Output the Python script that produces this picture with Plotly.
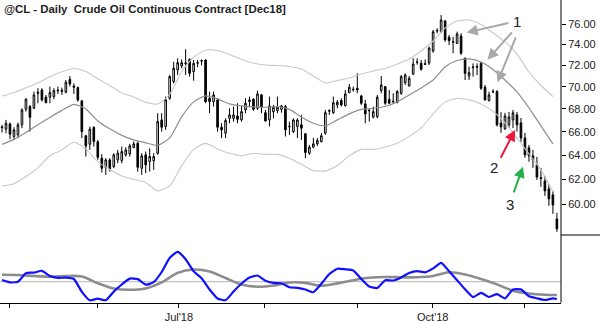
import math
import plotly.graph_objects as go

# ---------------- data ----------------
bar_index = list(range(140))

open_ = [66.35, 66.22, 66.68, 65.59, 65.73, 66.60, 67.97, 68.21, 68.06, 69.50,
         69.71, 69.05, 69.05, 69.11, 69.62, 69.68, 69.50, 70.69, 70.08, 69.93,
         68.72, 65.65, 64.93, 66.39, 65.13, 63.75, 62.97, 63.61, 63.05, 63.61,
         63.55, 64.03, 64.11, 64.65, 65.02, 62.92, 64.03, 63.47, 63.55, 64.17,
         67.03, 66.45, 68.96, 70.48, 71.56, 71.94, 72.15, 72.56, 71.40, 72.20,
         72.40, 72.50, 68.96, 68.66, 68.81, 66.39, 65.88, 67.17, 67.17, 67.38,
         67.03, 67.91, 68.66, 68.87, 68.06, 69.26, 67.67, 67.03, 67.76, 67.85,
         67.97, 68.21, 66.42, 66.01, 66.45, 66.60, 65.82, 64.17, 64.68, 64.96,
         65.16, 65.88, 67.80, 67.67, 68.36, 68.75, 68.30, 69.47, 69.73, 69.87,
         69.17, 68.45, 67.83, 67.27, 67.32, 69.65, 70.02, 68.87, 68.64, 68.57,
         69.41, 70.38, 70.08, 71.19, 72.28, 72.18, 72.15, 72.21, 73.36, 75.30,
         75.24, 76.30, 74.69, 74.20, 74.10, 74.82, 72.66, 71.00, 71.78, 71.90,
         72.18, 69.96, 68.75, 69.53, 69.56, 66.77, 66.25, 66.60, 67.03, 67.47,
         66.77, 65.47, 64.62, 63.95, 63.20, 62.15, 61.88, 61.24, 60.76, 58.88]

high = [66.60, 67.03, 66.80, 66.39, 66.80, 68.06, 68.96, 68.36, 69.56, 69.87,
        69.87, 69.26, 70.02, 69.87, 70.02, 69.93, 70.63, 71.00, 70.32, 70.02,
        68.81, 65.73, 66.45, 66.45, 65.30, 64.09, 63.75, 63.75, 64.17, 64.45,
        64.73, 64.68, 64.96, 65.16, 65.16, 64.17, 64.31, 64.59, 64.17, 67.62,
        67.62, 69.11, 71.09, 72.34, 72.66, 72.56, 73.53, 72.66, 72.50, 72.50,
        72.56, 72.56, 69.56, 69.56, 68.96, 66.74, 67.17, 68.06, 68.21, 68.51,
        68.27, 68.96, 69.11, 68.96, 69.65, 69.35, 67.91, 69.11, 68.36, 69.11,
        68.36, 68.36, 66.88, 67.17, 67.17, 67.47, 65.88, 64.87, 65.45, 65.45,
        65.88, 67.91, 67.97, 69.11, 68.81, 68.96, 69.71, 70.26, 70.02, 71.25,
        69.26, 68.81, 68.06, 68.21, 69.26, 71.00, 70.08, 69.71, 69.41, 69.71,
        71.09, 71.25, 71.00, 72.66, 72.66, 72.50, 72.56, 73.78, 75.41, 75.58,
        76.90, 76.40, 74.92, 74.75, 75.24, 75.09, 72.75, 71.87, 72.18, 72.18,
        72.34, 70.17, 69.56, 69.78, 69.71, 67.71, 67.65, 67.74, 67.91, 67.74,
        67.20, 65.90, 64.87, 64.45, 63.86, 62.95, 62.29, 61.64, 61.08, 59.35]

low = [65.93, 65.87, 65.36, 65.30, 65.45, 66.31, 67.76, 66.01, 68.00, 68.51,
       68.66, 68.51, 68.51, 68.87, 69.35, 69.26, 69.41, 70.02, 69.35, 68.66,
       65.45, 63.89, 64.45, 64.73, 63.61, 62.56, 62.37, 62.64, 62.92, 63.33,
       63.33, 63.89, 63.89, 64.59, 62.64, 62.37, 62.52, 62.64, 62.78, 64.03,
       66.01, 66.16, 68.81, 70.32, 71.09, 71.72, 71.09, 70.94, 70.57, 71.81,
       72.00, 68.51, 67.62, 68.21, 66.01, 65.45, 65.45, 66.74, 66.88, 66.74,
       66.88, 67.62, 68.15, 67.85, 67.91, 67.62, 66.88, 66.45, 67.17, 67.62,
       67.67, 65.59, 65.73, 65.88, 65.45, 65.30, 63.75, 64.03, 64.59, 64.79,
       65.07, 65.73, 67.47, 67.56, 68.06, 68.21, 68.21, 69.41, 69.56, 69.41,
       68.36, 66.74, 66.88, 67.17, 67.17, 69.41, 68.36, 68.45, 68.45, 68.51,
       69.26, 70.17, 70.02, 71.09, 72.06, 71.50, 72.03, 72.03, 73.20, 75.09,
       75.09, 74.26, 73.94, 73.15, 74.04, 72.98, 70.63, 70.63, 70.94, 71.09,
       69.71, 68.75, 68.66, 69.41, 66.45, 65.91, 66.16, 66.33, 66.33, 66.00,
       65.13, 63.78, 63.45, 62.95, 61.96, 61.40, 60.68, 59.89, 59.27, 57.89]

close = [66.40, 66.74, 65.79, 66.16, 66.60, 67.91, 68.87, 67.27, 69.26, 69.42,
         68.81, 68.57, 69.47, 69.65, 69.68, 69.60, 70.42, 70.26, 69.96, 68.81,
         66.01, 64.79, 66.22, 65.16, 63.83, 62.92, 63.61, 62.84, 64.03, 64.17,
         64.31, 64.45, 64.79, 64.96, 63.00, 63.95, 63.20, 63.89, 63.89, 66.88,
         66.39, 68.81, 70.94, 71.72, 72.25, 72.25, 72.22, 71.25, 72.18, 72.25,
         72.43, 68.66, 68.66, 69.26, 66.39, 66.16, 66.97, 67.47, 67.47, 67.09,
         67.76, 68.51, 68.81, 67.97, 69.35, 68.15, 66.94, 68.27, 68.15, 68.15,
         68.27, 66.16, 66.47, 67.03, 67.03, 66.31, 64.23, 64.68, 64.96, 65.24,
         65.65, 67.67, 67.84, 68.55, 68.60, 68.36, 69.35, 69.96, 69.77, 69.71,
         68.51, 67.56, 67.87, 67.76, 69.05, 70.17, 68.51, 68.51, 68.68, 69.56,
         70.94, 71.09, 70.79, 72.12, 72.32, 71.62, 72.10, 73.65, 75.24, 75.36,
         76.40, 74.43, 74.36, 74.26, 75.02, 73.15, 71.25, 71.31, 71.84, 71.84,
         69.87, 68.81, 69.26, 69.58, 66.60, 66.42, 67.38, 67.29, 67.65, 66.60,
         65.47, 64.03, 63.95, 63.61, 62.20, 62.08, 61.08, 60.44, 59.97, 58.12]

# Keltner-style channel, read every third bar
band_index = list(range(0, 139, 3))
upper_band = [69.14, 69.48, 69.91, 70.35, 70.94, 71.39, 71.70, 71.42, 70.74, 70.12,
              69.44, 69.08, 68.59, 68.45, 69.30, 71.42, 72.76, 73.46, 73.41, 73.03,
              72.55, 72.20, 72.03, 71.98, 71.89, 71.65, 71.00, 70.35, 70.58, 70.81,
              71.19, 71.47, 71.70, 72.12, 72.60, 73.36, 74.33, 75.61, 76.30, 76.40,
              75.96, 75.12, 74.24, 73.07, 71.37, 70.12, 69.12]
middle_band = [64.92, 65.34, 65.94, 66.60, 67.25, 67.87, 68.41, 68.00, 66.94, 66.25,
               65.69, 65.30, 65.05, 64.83, 65.47, 67.29, 68.63, 69.17, 68.90, 68.45,
               68.27, 68.18, 68.15, 68.20, 67.96, 67.29, 66.74, 66.51, 67.03, 67.56,
               67.96, 68.06, 68.22, 68.63, 69.26, 69.89, 70.63, 71.84, 72.45, 72.60,
               72.31, 71.61, 70.63, 69.53, 68.09, 66.51, 64.96]
lower_band = [61.46, 61.66, 62.24, 62.95, 63.95, 64.45, 65.10, 64.53, 63.44, 62.82,
              62.29, 62.00, 61.76, 61.08, 61.48, 63.11, 64.49, 65.00, 64.53, 64.16,
              63.95, 64.16, 64.07, 64.07, 63.74, 63.24, 62.72, 62.70, 63.15, 63.95,
              64.49, 64.49, 64.70, 65.02, 65.60, 66.33, 67.56, 68.63, 68.95, 68.81,
              68.45, 67.78, 66.77, 65.47, 64.11, 62.78, 61.00]

# oscillator panel
fast_index = list(range(0, 139, 2)) + [139]
fast_line = [0.085, -0.03, 0.0, 0.425, 0.455, 0.545, 0.285, 0.195, 0.2, 0.135,
             -0.505, -0.93, -0.85, -0.925, -0.495, -0.14, 0.155, 0.13, -0.15, -0.025,
             0.485, 1.185, 1.495, 1.125, 0.525, 0.17, -0.39, -0.84, -0.925, -0.49,
             -0.09, 0.21, 0.31, 0.05, -0.06, -0.08, -0.275, -0.31, -0.39, -0.525,
             -0.105, 0.385, 0.65, 0.62, 0.56, 0.135, -0.245, -0.315, 0.07, 0.06,
             0.215, 0.435, 0.53, 0.47, 0.665, 0.945, 0.52, 0.075, -0.38, -0.77,
             -0.555, -0.765, -0.625, -0.83, -0.39, -0.385, -0.73, -0.83, -0.915, -0.835,
             -0.865]
slow_index = list(range(0, 137, 4)) + [139]
slow_line = [0.345, 0.335, 0.285, 0.25, 0.285, 0.26, -0.075, -0.345, -0.405, -0.335,
             -0.035, 0.44, 0.61, 0.515, 0.185, -0.135, -0.25, -0.19, -0.04, -0.06,
             -0.2, -0.085, 0.075, 0.195, 0.235, 0.22, 0.22, 0.285, 0.47, 0.36,
             0.135, -0.135, -0.45, -0.59, -0.655, -0.665]

price_ticks = [60, 62, 64, 66, 68, 70, 72, 74, 76]
month_ticks = [2, 23.8, 44.3, 65.8, 89.1, 107.9, 130.9]
month_labels = ["", "", "Jul'18", "", "", "Oct'18", ""]

title_text = "@CL - Daily\u00a0\u00a0Crude Oil Continuous Contract [Dec18]"

# call-outs: (label, bar, price)
callout_labels = [("1", 129.1, 76.30), ("2", 123.2, 62.94), ("3", 127.3, 60.00)]
# arrows: (tip bar, tip price, tail dx px, tail dy px, colour)
callout_arrows = [
    (116.4, 75.16, 43.3, -9.8, "#a8a8a8"),
    (121.6, 72.53, 25.8, -28.7, "#a8a8a8"),
    (124.1, 70.41, 19.0, -46.5, "#a8a8a8"),
    (128.5, 66.16, -15.0, 29.3, "#f0143c"),
    (130.5, 63.05, -9.7, 27.3, "#22b04a"),
]

# ---------------- figure ----------------
W, H = 600, 322
plot_right = 561 / W
main_bottom = 1 - 235 / H
osc_bottom = 1 - 302.7 / H
osc_top = 1 - 240 / H
x_range = [-0.5, 140.03]

fig = go.Figure()

band_styles = [(upper_band, "#c9c9c9", 1.1), (lower_band, "#c9c9c9", 1.1), (middle_band, "#8e8e8e", 1.2)]
for vals, col, wdt in band_styles:
    fig.add_trace(go.Scatter(x=band_index, y=vals, mode="lines",
                             line=dict(color=col, width=wdt, shape="spline", smoothing=0.6),
                             xaxis="x", yaxis="y", hoverinfo="skip", showlegend=False))

fig.add_trace(go.Candlestick(
    x=bar_index, open=open_, high=high, low=low, close=close,
    increasing=dict(line=dict(color="black", width=1), fillcolor="white"),
    decreasing=dict(line=dict(color="black", width=1), fillcolor="black"),
    whiskerwidth=0, xaxis="x", yaxis="y", showlegend=False))

fig.add_trace(go.Scatter(x=slow_index, y=slow_line, mode="lines",
                         line=dict(color="#8c8c8c", width=2.6, shape="spline", smoothing=0.8),
                         xaxis="x2", yaxis="y2", showlegend=False, hoverinfo="skip"))
fig.add_trace(go.Scatter(x=fast_index, y=fast_line, mode="lines",
                         line=dict(color="#1010ff", width=2.2, shape="spline", smoothing=0.5),
                         xaxis="x2", yaxis="y2", showlegend=False, hoverinfo="skip"))

tick_font = dict(family="Liberation Sans, Arial, sans-serif", size=11, color="#222222")

fig.update_layout(
    width=W, height=H, margin=dict(l=0, r=0, t=0, b=0),
    paper_bgcolor="white", plot_bgcolor="white", showlegend=False,
    boxgap=0.42,
    xaxis=dict(domain=[0, plot_right], range=x_range, anchor="y", showticklabels=False,
               showgrid=False, zeroline=False, showline=False, ticks="",
               rangeslider=dict(visible=False), fixedrange=True),
    yaxis=dict(domain=[main_bottom, 1], type="log",
               range=[math.log10(57.65), math.log10(78.43)],
               side="right", anchor="x", tickvals=price_ticks,
               ticktext=[f"{v:.2f}" for v in price_ticks],
               ticks="outside", ticklen=4, tickcolor="black", tickfont=tick_font,
               showgrid=False, zeroline=False, showline=False, automargin=False),
    xaxis2=dict(domain=[0, plot_right], range=x_range, anchor="y2",
                tickvals=month_ticks, ticktext=month_labels, ticks="outside",
                ticklen=4, tickcolor="black", tickfont=tick_font,
                showline=True, linecolor="black", linewidth=1,
                showgrid=False, zeroline=False, automargin=False),
    yaxis2=dict(domain=[osc_bottom, osc_top], range=[-1.05, 2.085], anchor="x2",
                showticklabels=False, showgrid=False, zeroline=False, ticks=""),
)

shapes = [
    dict(type="line", xref="x2", yref="y2", x0=x_range[0], x1=x_range[1], y0=0, y1=0,
         line=dict(color="#b4b4b4", width=1), layer="below"),
    dict(type="line", xref="paper", yref="paper", x0=plot_right, x1=plot_right,
         y0=osc_bottom, y1=1, line=dict(color="black", width=1)),
    dict(type="line", xref="paper", yref="paper", x0=plot_right, x1=1,
         y0=main_bottom, y1=main_bottom, line=dict(color="black", width=1)),
]
fig.update_layout(shapes=shapes)

annotations = [dict(text=f"<b>{title_text}</b>", xref="paper", yref="paper",
                    x=2 / W, y=1 - 9 / H, xanchor="left", yanchor="middle",
                    showarrow=False,
                    font=dict(family="Liberation Sans, Arial, sans-serif", size=11.4, color="#1e1e1e"))]
for lab, bx, pr in callout_labels:
    annotations.append(dict(text=lab, x=bx, y=math.log10(pr), xref="x", yref="y",
                            showarrow=False, xanchor="center", yanchor="middle",
                            font=dict(family="Liberation Sans, Arial, sans-serif", size=15, color="#222222")))
for bx, pr, dx, dy, col in callout_arrows:
    annotations.append(dict(text="", x=bx, y=math.log10(pr), xref="x", yref="y",
                            showarrow=True, ax=dx, ay=dy, arrowcolor=col,
                            arrowwidth=2, arrowhead=2, arrowsize=1.1))
fig.update_layout(annotations=annotations)

fig.write_html("out.html", config={"displayModeBar": False})
